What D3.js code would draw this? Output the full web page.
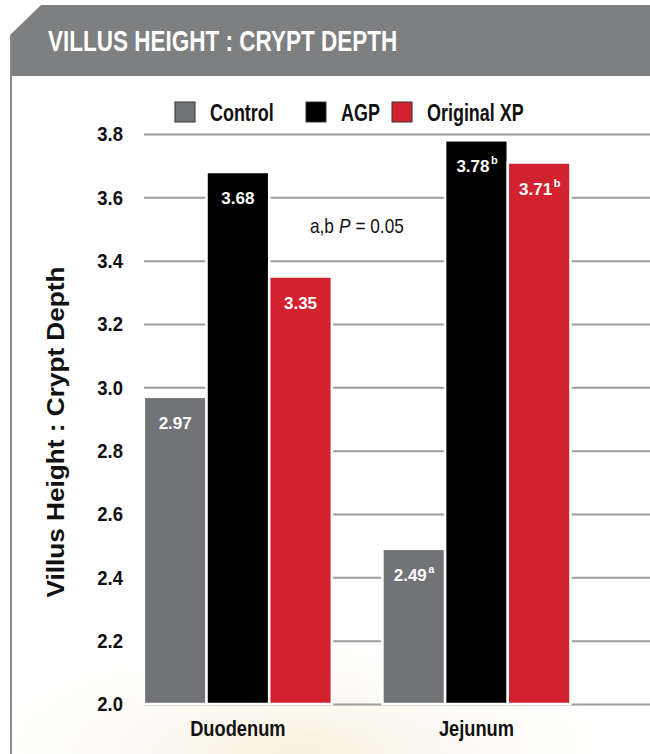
<!DOCTYPE html>
<html>
<head>
<meta charset="utf-8">
<script src="https://cdn.jsdelivr.net/npm/d3@7"></script>
<style>
  body { margin: 0; background: #fff; }
  svg { display: block; }
  text { font-family: "Liberation Sans", Arial, sans-serif; }
</style>
</head>
<body>
<svg width="650" height="754"></svg>
<script>
const groups = ['Duodenum', 'Jejunum'];
const series = ['Control', 'AGP', 'Original XP'];
const control = [2.97, 2.49];
const agp = [3.68, 3.78];
const originalXp = [3.35, 3.71];
const controlSup = ['', 'a'];
const agpSup = ['', 'b'];
const originalXpSup = ['', 'b'];
const yTicks = [2.0, 2.2, 2.4, 2.6, 2.8, 3.0, 3.2, 3.4, 3.6, 3.8];
const colors = ['#727377', '#000000', '#d3222f'];

const svg = d3.select('svg');
const width = +svg.attr('width');
const height = +svg.attr('height');

// squeeze text horizontally (the original uses a condensed face)
const narrow = (sel, k) => sel.each(function () {
  const w = this.getComputedTextLength();
  if (w > 0) d3.select(this).attr('textLength', w * k).attr('lengthAdjust', 'spacingAndGlyphs');
});

// background glow + frame
const defs = svg.append('defs');
const glow = defs.append('radialGradient').attr('id', 'glow')
  .attr('cx', '0.45').attr('cy', '1.0').attr('r', '0.6');
glow.append('stop').attr('offset', '0%').attr('stop-color', '#f3ecd2');
glow.append('stop').attr('offset', '100%').attr('stop-color', '#ffffff').attr('stop-opacity', 0);

svg.append('rect').attr('x', 10).attr('y', 520).attr('width', width - 10).attr('height', 234)
  .attr('fill', 'url(#glow)').attr('opacity', 0.8);

svg.append('path')
  .attr('d', `M41,5 L${width},5 L${width},76 L10,76 L10,35 Z`)
  .attr('fill', '#7e7f81');
svg.append('line').attr('x1', 11).attr('x2', 11).attr('y1', 35).attr('y2', height)
  .attr('stroke', '#8a8a8c').attr('stroke-width', 2);

svg.append('text').attr('x', 48).attr('y', 51)
  .attr('fill', '#fff').attr('font-size', 30).attr('font-weight', 'bold')
  .text('VILLUS HEIGHT : CRYPT DEPTH')
  .call(narrow, 0.75);

// scales
const y = d3.scaleLinear().domain([2.0, 3.8]).range([704, 134]);
const x0 = d3.scaleBand().domain(groups).range([120, 594.3]).paddingInner(0.212).paddingOuter(0.1);
const x1 = d3.scaleBand().domain(series).range([0, x0.bandwidth()]);

const values = [control, agp, originalXp];
const sups = [controlSup, agpSup, originalXpSup];
const rows = [];
groups.forEach((g, gi) => {
  series.forEach((s, si) => {
    rows.push({ group: g, series: s, value: values[si][gi], sup: sups[si][gi], color: colors[si] });
  });
});

// gridlines + y labels
const yAxis = svg.append('g').attr('transform', 'translate(144,0)')
  .call(d3.axisLeft(y).tickValues(yTicks).tickFormat(d3.format('.1f'))
    .tickSize(-(width - 144)).tickPadding(21));
yAxis.select('.domain').remove();
yAxis.selectAll('line').attr('stroke', '#9c9c9e').attr('stroke-width', 2);
yAxis.selectAll('text').attr('font-size', 21).attr('font-weight', 'bold').attr('fill', '#111')
  .attr('font-family', '"Liberation Sans", sans-serif')
  .call(narrow, 0.88);

// bars
const bars = svg.append('g').selectAll('g').data(rows).enter().append('g')
  .attr('transform', d => `translate(${x0(d.group) + x1(d.series)},0)`);

bars.append('rect')
  .attr('y', d => y(d.value))
  .attr('width', x1.bandwidth())
  .attr('height', d => y(2.0) - y(d.value))
  .attr('fill', d => d.color)
  .attr('stroke', '#fff').attr('stroke-width', 2.5);

// value labels, superscript letters as separate texts
const cx = x1.bandwidth() / 2;
bars.append('text')
  .attr('class', 'val')
  .attr('x', d => cx - (d.sup ? 3.5 : 0))
  .attr('y', d => y(d.value) + 32)
  .attr('text-anchor', 'middle')
  .attr('fill', '#fff').attr('font-size', 17).attr('font-weight', 'bold')
  .text(d => d.value.toFixed(2));

bars.filter(d => d.sup).append('text')
  .attr('x', function () {
    const w = d3.select(this.parentNode).select('text.val').node().getComputedTextLength();
    return cx - 3.5 + w / 2 + 1.5;
  })
  .attr('y', d => y(d.value) + 24)
  .attr('fill', '#fff').attr('font-size', 11).attr('font-weight', 'bold')
  .text(d => d.sup);

// x labels
const xAxis = svg.append('g').attr('transform', 'translate(0,704)')
  .call(d3.axisBottom(x0).tickSize(0).tickPadding(16));
xAxis.select('.domain').remove();
xAxis.selectAll('text').attr('font-size', 22).attr('font-weight', 'bold').attr('fill', '#111')
  .attr('font-family', '"Liberation Sans", sans-serif')
  .call(narrow, 0.83);

// y title
svg.append('text')
  .attr('transform', 'translate(64,432) rotate(-90)')
  .attr('text-anchor', 'middle')
  .attr('font-size', 24).attr('font-weight', 'bold').attr('fill', '#111')
  .text('Villus Height : Crypt Depth')
  .attr('textLength', 331).attr('lengthAdjust', 'spacingAndGlyphs');

// legend
const legendX = [175, 306, 392];
const legend = svg.append('g').selectAll('g').data(series).enter().append('g')
  .attr('transform', (d, i) => `translate(${legendX[i]},102)`);
legend.append('rect').attr('width', 20).attr('height', 20)
  .attr('fill', (d, i) => colors[i]).attr('stroke', '#333').attr('stroke-width', 1);
legend.append('text').attr('x', 35).attr('y', 18.5)
  .attr('font-size', 23).attr('font-weight', 'bold').attr('fill', '#111')
  .text(d => d)
  .call(narrow, 0.78);

// annotation
const note = svg.append('text').attr('x', 310).attr('y', 233)
  .attr('font-size', 21).attr('fill', '#111');
note.append('tspan').text('a,b').call(narrow, 0.82);
note.append('tspan').attr('dx', 5).attr('font-style', 'italic').text('P').call(narrow, 0.82);
note.append('tspan').attr('dx', 5).text('= 0.05').call(narrow, 0.82);
</script>
</body>
</html>
